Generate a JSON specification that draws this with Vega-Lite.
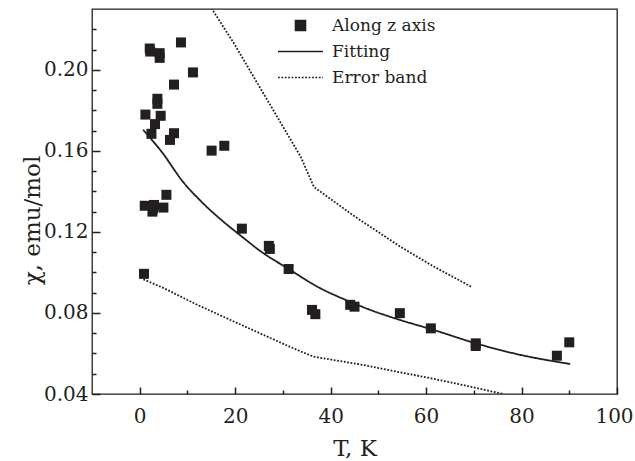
{
  "$schema": "https://vega.github.io/schema/vega-lite/v6.json",
  "width": 525,
  "height": 385,
  "autosize": {"type": "none"},
  "padding": {"left": 92, "top": 9, "right": 18, "bottom": 67},
  "background": "white",
  "config": {
    "font": "DejaVu Serif",
    "view": {"stroke": "#231f20", "strokeWidth": 1.3},
    "axis": {
      "grid": false,
      "domain": false,
      "labelFont": "DejaVu Serif",
      "labelFontSize": 20,
      "labelColor": "#231f20",
      "titleFont": "DejaVu Serif",
      "titleFontSize": 23,
      "titleFontWeight": "normal",
      "titleColor": "#231f20"
    },
    "legend": {
      "labelFont": "DejaVu Serif",
      "labelFontSize": 17,
      "labelColor": "#231f20",
      "symbolSize": 225,
      "symbolStrokeColor": "#231f20",
      "symbolFillColor": "#231f20",
      "symbolStrokeWidth": 1.6
    }
  },
  "datasets": {
    "points": [
      {"T": 0.9, "chi": 0.0993, "series": "Along z axis"},
      {"T": 1.05, "chi": 0.1329, "series": "Along z axis"},
      {"T": 1.19, "chi": 0.1779, "series": "Along z axis"},
      {"T": 2.1, "chi": 0.2105, "series": "Along z axis"},
      {"T": 2.2, "chi": 0.209, "series": "Along z axis"},
      {"T": 2.45, "chi": 0.1684, "series": "Along z axis"},
      {"T": 2.66, "chi": 0.13, "series": "Along z axis"},
      {"T": 2.8, "chi": 0.1316, "series": "Along z axis"},
      {"T": 2.99, "chi": 0.1333, "series": "Along z axis"},
      {"T": 3.2, "chi": 0.1732, "series": "Along z axis"},
      {"T": 3.7, "chi": 0.1857, "series": "Along z axis"},
      {"T": 3.7, "chi": 0.1832, "series": "Along z axis"},
      {"T": 4.18, "chi": 0.2082, "series": "Along z axis"},
      {"T": 4.18, "chi": 0.2059, "series": "Along z axis"},
      {"T": 4.39, "chi": 0.1773, "series": "Along z axis"},
      {"T": 4.96, "chi": 0.132, "series": "Along z axis"},
      {"T": 5.59, "chi": 0.1383, "series": "Along z axis"},
      {"T": 6.34, "chi": 0.1654, "series": "Along z axis"},
      {"T": 7.18, "chi": 0.1927, "series": "Along z axis"},
      {"T": 7.18, "chi": 0.1687, "series": "Along z axis"},
      {"T": 8.64, "chi": 0.2135, "series": "Along z axis"},
      {"T": 11.15, "chi": 0.1987, "series": "Along z axis"},
      {"T": 15.06, "chi": 0.1601, "series": "Along z axis"},
      {"T": 17.72, "chi": 0.1625, "series": "Along z axis"},
      {"T": 21.4, "chi": 0.1216, "series": "Along z axis"},
      {"T": 27.05, "chi": 0.1131, "series": "Along z axis"},
      {"T": 27.26, "chi": 0.1116, "series": "Along z axis"},
      {"T": 31.2, "chi": 0.1017, "series": "Along z axis"},
      {"T": 36.1, "chi": 0.0815, "series": "Along z axis"},
      {"T": 36.8, "chi": 0.0794, "series": "Along z axis"},
      {"T": 44.1, "chi": 0.084, "series": "Along z axis"},
      {"T": 45.0, "chi": 0.0831, "series": "Along z axis"},
      {"T": 54.5, "chi": 0.0799, "series": "Along z axis"},
      {"T": 61.0, "chi": 0.0724, "series": "Along z axis"},
      {"T": 70.4, "chi": 0.065, "series": "Along z axis"},
      {"T": 70.4, "chi": 0.0637, "series": "Along z axis"},
      {"T": 87.4, "chi": 0.0589, "series": "Along z axis"},
      {"T": 90.0, "chi": 0.0655, "series": "Along z axis"}
    ],
    "fit": [
      {"T": 0.7, "chi": 0.1704, "series": "Fitting"},
      {"T": 4.8, "chi": 0.1589, "series": "Fitting"},
      {"T": 8.9, "chi": 0.1452, "series": "Fitting"},
      {"T": 13.1, "chi": 0.1345, "series": "Fitting"},
      {"T": 17.3, "chi": 0.1255, "series": "Fitting"},
      {"T": 21.5, "chi": 0.1175, "series": "Fitting"},
      {"T": 25.0, "chi": 0.111, "series": "Fitting"},
      {"T": 31.2, "chi": 0.1017, "series": "Fitting"},
      {"T": 37.2, "chi": 0.093, "series": "Fitting"},
      {"T": 44.1, "chi": 0.0855, "series": "Fitting"},
      {"T": 48.3, "chi": 0.0815, "series": "Fitting"},
      {"T": 54.6, "chi": 0.0765, "series": "Fitting"},
      {"T": 61.6, "chi": 0.0716, "series": "Fitting"},
      {"T": 70.4, "chi": 0.065, "series": "Fitting"},
      {"T": 79.0, "chi": 0.0597, "series": "Fitting"},
      {"T": 90.2, "chi": 0.0548, "series": "Fitting"}
    ],
    "band": [
      {"T": 0.77, "chi": 0.0966, "series": "Error band", "curve": "lower"},
      {"T": 5.08, "chi": 0.0922, "series": "Error band", "curve": "lower"},
      {"T": 12.07, "chi": 0.084, "series": "Error band", "curve": "lower"},
      {"T": 19.04, "chi": 0.0765, "series": "Error band", "curve": "lower"},
      {"T": 26.0, "chi": 0.0691, "series": "Error band", "curve": "lower"},
      {"T": 33.0, "chi": 0.0617, "series": "Error band", "curve": "lower"},
      {"T": 36.5, "chi": 0.0584, "series": "Error band", "curve": "lower"},
      {"T": 46.9, "chi": 0.0543, "series": "Error band", "curve": "lower"},
      {"T": 53.9, "chi": 0.051, "series": "Error band", "curve": "lower"},
      {"T": 60.9, "chi": 0.0478, "series": "Error band", "curve": "lower"},
      {"T": 67.8, "chi": 0.0444, "series": "Error band", "curve": "lower"},
      {"T": 76.2, "chi": 0.04, "series": "Error band", "curve": "lower"},
      {"T": 15.0, "chi": 0.2305, "series": "Error band", "curve": "upper"},
      {"T": 19.7, "chi": 0.2132, "series": "Error band", "curve": "upper"},
      {"T": 26.7, "chi": 0.1852, "series": "Error band", "curve": "upper"},
      {"T": 33.7, "chi": 0.1572, "series": "Error band", "curve": "upper"},
      {"T": 36.5, "chi": 0.1422, "series": "Error band", "curve": "upper"},
      {"T": 45.0, "chi": 0.1277, "series": "Error band", "curve": "upper"},
      {"T": 54.6, "chi": 0.1127, "series": "Error band", "curve": "upper"},
      {"T": 61.6, "chi": 0.1029, "series": "Error band", "curve": "upper"},
      {"T": 69.4, "chi": 0.093, "series": "Error band", "curve": "upper"}
    ]
  },
  "resolve": {"axis": {"x": "independent", "y": "independent"}},
  "layer": [
    {
      "data": {"name": "band"},
      "mark": {"type": "line", "clip": true, "strokeWidth": 1.8, "interpolate": "linear"},
      "encoding": {
        "x": {
          "field": "T",
          "type": "quantitative",
          "scale": {"domain": [-10, 100], "nice": false, "zero": false},
          "axis": {
            "orient": "bottom",
            "title": "T, K",
            "values": [0, 20, 40, 60, 80, 100],
            "offset": -7,
            "ticks": true,
            "tickSize": 7,
            "tickColor": "#231f20",
            "tickWidth": 1.5,
            "zindex": 2,
            "labelPadding": 12,
            "labelFlush": false,
            "labelOffset": {"condition": {"test": "datum.value == 100", "value": -3}, "value": 0},
            "titleY": 68,
            "titleBaseline": "alphabetic"
          }
        },
        "y": {
          "field": "chi",
          "type": "quantitative",
          "scale": {"domain": [0.04, 0.23], "nice": false, "zero": false},
          "axis": {
            "orient": "left",
            "title": "χ, emu/mol",
            "values": [0.04, 0.08, 0.12, 0.16, 0.20],
            "format": ".2f",
            "offset": -8,
            "ticks": true,
            "tickSize": 8,
            "tickColor": "#231f20",
            "tickWidth": 1.5,
            "zindex": 2,
            "labelPadding": 4,
            "labelFlush": false,
            "titleX": -68,
            "titleY": 211,
            "titleAngle": 270,
            "titleBaseline": "middle",
            "titleAlign": "center"
          }
        },
        "detail": {"field": "curve"},
        "order": {"field": "T", "type": "quantitative"},
        "color": {
          "field": "series",
          "type": "nominal",
          "scale": {"domain": ["Along z axis", "Fitting", "Error band"], "range": ["#231f20", "#231f20", "#231f20"]},
          "legend": {"title": null, "orient": "none", "legendX": 200, "legendY": 8, "labelOffset": 23, "rowPadding": 8, "padding": 0}
        },
        "strokeDash": {
          "field": "series",
          "type": "nominal",
          "scale": {"domain": ["Along z axis", "Fitting", "Error band"], "range": [[1, 0], [1, 0], [1.8, 1.6]]},
          "legend": {"title": null, "orient": "none", "legendX": 200, "legendY": 8, "labelOffset": 23, "rowPadding": 8, "padding": 0}
        }
      }
    },
    {
      "data": {"name": "fit"},
      "mark": {"type": "line", "clip": true, "strokeWidth": 1.8, "interpolate": "monotone"},
      "encoding": {
        "x": {
          "field": "T",
          "type": "quantitative",
          "axis": {
            "orient": "bottom",
            "title": null,
            "values": [10, 30, 50, 70, 90],
            "labels": false,
            "offset": -4,
            "ticks": true,
            "tickSize": 4,
            "tickColor": "#231f20",
            "tickWidth": 1.5,
            "zindex": 2
          }
        },
        "y": {
          "field": "chi",
          "type": "quantitative",
          "axis": {
            "orient": "left",
            "title": null,
            "values": [0.05, 0.06, 0.07, 0.09, 0.10, 0.11, 0.13, 0.14, 0.15, 0.17, 0.18, 0.19, 0.21, 0.22],
            "labels": false,
            "offset": -4,
            "ticks": true,
            "tickSize": 4,
            "tickColor": "#231f20",
            "tickWidth": 1.5,
            "zindex": 2
          }
        },
        "order": {"field": "T", "type": "quantitative"},
        "color": {
          "field": "series",
          "type": "nominal",
          "scale": {"domain": ["Along z axis", "Fitting", "Error band"], "range": ["#231f20", "#231f20", "#231f20"]},
          "legend": {"title": null, "orient": "none", "legendX": 200, "legendY": 8, "labelOffset": 23, "rowPadding": 8, "padding": 0}
        },
        "strokeDash": {
          "field": "series",
          "type": "nominal",
          "scale": {"domain": ["Along z axis", "Fitting", "Error band"], "range": [[1, 0], [1, 0], [1.8, 1.6]]},
          "legend": {"title": null, "orient": "none", "legendX": 200, "legendY": 8, "labelOffset": 23, "rowPadding": 8, "padding": 0}
        }
      }
    },
    {
      "data": {"name": "points"},
      "mark": {"type": "point", "filled": true, "opacity": 1, "size": 225},
      "encoding": {
        "x": {"field": "T", "type": "quantitative", "axis": null},
        "y": {"field": "chi", "type": "quantitative", "axis": null},
        "color": {
          "field": "series",
          "type": "nominal",
          "scale": {"domain": ["Along z axis", "Fitting", "Error band"], "range": ["#231f20", "#231f20", "#231f20"]},
          "legend": {"title": null, "orient": "none", "legendX": 200, "legendY": 8, "labelOffset": 23, "rowPadding": 8, "padding": 0}
        },
        "shape": {
          "field": "series",
          "type": "nominal",
          "scale": {"domain": ["Along z axis", "Fitting", "Error band"], "range": ["M-0.667,-0.667H0.667V0.667H-0.667Z", "M-3,0H3", "M-3,0H3"]},
          "legend": {"title": null, "orient": "none", "legendX": 200, "legendY": 8, "labelOffset": 23, "rowPadding": 8, "padding": 0}
        }
      }
    }
  ]
}
